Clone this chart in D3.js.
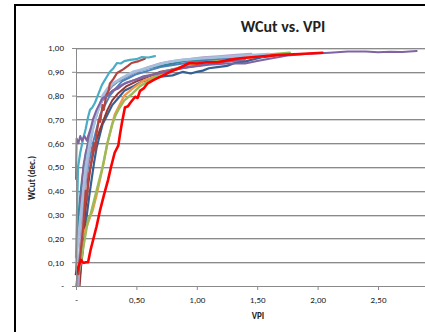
<!DOCTYPE html>
<html>
<head>
<meta charset="utf-8">
<script src="https://cdn.jsdelivr.net/npm/d3@7"></script>
<style>
  html, body { margin: 0; padding: 0; background: #fff; }
  svg { display: block; }
  text { font-family: Carlito, Lato, "Liberation Sans", sans-serif; fill: #222; }
</style>
</head>
<body>
<svg id="chart" width="425" height="332"></svg>
<script>
// Axis ticks
const xTicks = [0, 0.5, 1.0, 1.5, 2.0, 2.5];
const yTicks = [0, 0.1, 0.2, 0.3, 0.4, 0.5, 0.6, 0.7, 0.8, 0.9, 1.0];

// Well series: [VPI, WCut]
const sAqua = [[0,0.12],[0.008,0.3],[0.017,0.5],[0.035,0.56],[0.06,0.62],[0.08,0.66],[0.1,0.71],[0.116,0.74],[0.135,0.75],[0.157,0.77],[0.18,0.8],[0.215,0.845],[0.25,0.875],[0.28,0.9],[0.31,0.915],[0.34,0.937],[0.37,0.935],[0.4,0.945],[0.447,0.95],[0.5,0.953],[0.546,0.962],[0.6,0.96],[0.654,0.966]];
const sBrick = [[0.02,0.05],[0.04,0.15],[0.06,0.25],[0.08,0.4],[0.09,0.36],[0.1,0.45],[0.12,0.5],[0.13,0.53],[0.15,0.6],[0.16,0.57],[0.17,0.64],[0.19,0.7],[0.2,0.69],[0.22,0.76],[0.23,0.74],[0.25,0.8],[0.27,0.82],[0.28,0.85],[0.31,0.87],[0.34,0.895],[0.39,0.91],[0.43,0.925],[0.46,0.937],[0.52,0.945],[0.57,0.955]];
const sPurple = [[0,0.45],[0.005,0.62],[0.02,0.6],[0.035,0.63],[0.05,0.61],[0.07,0.63],[0.09,0.61],[0.1,0.63],[0.12,0.66],[0.14,0.7],[0.17,0.74],[0.2,0.77],[0.22,0.79],[0.26,0.8],[0.3,0.82],[0.35,0.83],[0.4,0.85],[0.48,0.865],[0.55,0.88],[0.65,0.89],[0.8,0.91],[0.95,0.92],[1.1,0.93],[1.25,0.935],[1.4,0.935],[1.5,0.945],[1.6,0.955],[1.75,0.968],[1.9,0.975],[2.1,0.98],[2.25,0.985],[2.4,0.985],[2.5,0.982],[2.6,0.984],[2.7,0.983],[2.82,0.987]];
const sNavy = [[0.02,0.0],[0.035,0.06],[0.05,0.12],[0.07,0.22],[0.09,0.3],[0.11,0.38],[0.13,0.45],[0.15,0.52],[0.17,0.58],[0.2,0.64],[0.22,0.68],[0.26,0.72],[0.3,0.76],[0.35,0.79],[0.4,0.82],[0.48,0.84],[0.55,0.86],[0.62,0.87],[0.7,0.88],[0.8,0.885],[0.886,0.9],[0.95,0.893],[1.0,0.9],[1.05,0.905],[1.1,0.915],[1.17,0.92],[1.25,0.925],[1.33,0.94],[1.4,0.943],[1.45,0.95],[1.55,0.962],[1.66,0.97]];
const sGreen = [[0,0.0],[0.02,0.05],[0.04,0.1],[0.06,0.16],[0.08,0.22],[0.1,0.28],[0.12,0.3],[0.14,0.34],[0.16,0.38],[0.19,0.44],[0.22,0.5],[0.24,0.55],[0.26,0.6],[0.28,0.64],[0.3,0.68],[0.33,0.72],[0.35,0.74],[0.4,0.78],[0.47,0.81],[0.53,0.84],[0.6,0.86],[0.7,0.895],[0.8,0.91],[0.94,0.93],[1.05,0.94],[1.2,0.95],[1.35,0.96],[1.5,0.97],[1.65,0.975],[1.77,0.98]];
const sOrange = [[0.01,0.0],[0.02,0.05],[0.03,0.1],[0.05,0.2],[0.07,0.23],[0.09,0.25],[0.11,0.28],[0.14,0.32],[0.17,0.38],[0.2,0.45],[0.23,0.52],[0.26,0.6],[0.29,0.66],[0.32,0.72],[0.36,0.76],[0.4,0.8],[0.47,0.83],[0.55,0.86],[0.65,0.88],[0.75,0.9],[0.88,0.915],[1.0,0.93],[1.15,0.94],[1.3,0.95],[1.45,0.96],[1.55,0.965]];
const sSky = [[0,0.1],[0.01,0.15],[0.02,0.2],[0.035,0.28],[0.05,0.35],[0.065,0.42],[0.08,0.5],[0.1,0.56],[0.12,0.62],[0.145,0.67],[0.17,0.72],[0.2,0.76],[0.22,0.8],[0.26,0.83],[0.3,0.85],[0.35,0.865],[0.4,0.88],[0.47,0.9],[0.55,0.91],[0.65,0.925],[0.75,0.94],[0.88,0.95],[1.0,0.955],[1.15,0.96],[1.3,0.965],[1.45,0.97],[1.6,0.975]];
const sLilac = [[0.02,0.0],[0.03,0.12],[0.05,0.25],[0.065,0.35],[0.08,0.45],[0.1,0.53],[0.12,0.6],[0.14,0.66],[0.16,0.7],[0.19,0.75],[0.22,0.79],[0.26,0.82],[0.3,0.845],[0.37,0.87],[0.45,0.89],[0.52,0.905],[0.6,0.92],[0.7,0.935],[0.8,0.945],[0.92,0.952],[1.05,0.96],[1.18,0.965],[1.3,0.97],[1.45,0.975]];
const sTeal = [[0,0.05],[0.01,0.18],[0.02,0.3],[0.035,0.38],[0.05,0.45],[0.065,0.5],[0.08,0.55],[0.1,0.6],[0.12,0.65],[0.15,0.7],[0.18,0.74],[0.21,0.78],[0.25,0.81],[0.3,0.84],[0.35,0.86],[0.42,0.88],[0.5,0.9],[0.6,0.915],[0.7,0.925],[0.8,0.935],[0.9,0.945],[1.0,0.95],[1.1,0.955]];
const sBlue = [[0.01,0.0],[0.025,0.1],[0.04,0.2],[0.055,0.3],[0.07,0.4],[0.085,0.45],[0.1,0.5],[0.12,0.55],[0.14,0.6],[0.17,0.66],[0.2,0.72],[0.24,0.76],[0.28,0.8],[0.33,0.83],[0.38,0.86],[0.44,0.875],[0.5,0.89],[0.6,0.905],[0.7,0.92],[0.82,0.93],[0.95,0.94],[1.08,0.95],[1.2,0.955],[1.3,0.958],[1.4,0.96]];
const sMaroon = [[0.03,0.0],[0.045,0.1],[0.06,0.2],[0.075,0.3],[0.09,0.38],[0.1,0.42],[0.12,0.5],[0.14,0.55],[0.16,0.6],[0.18,0.63],[0.2,0.66],[0.23,0.7],[0.26,0.74],[0.3,0.78],[0.35,0.81],[0.42,0.84],[0.5,0.86],[0.6,0.88],[0.7,0.9],[0.8,0.91],[0.9,0.92],[1.05,0.93],[1.2,0.94]];
const sPlum = [[0.03,0.3],[0.045,0.4],[0.06,0.5],[0.08,0.56],[0.1,0.6],[0.12,0.65],[0.15,0.7],[0.18,0.74],[0.22,0.78],[0.26,0.8],[0.3,0.82],[0.36,0.84],[0.42,0.855],[0.48,0.865],[0.55,0.875],[0.65,0.89],[0.75,0.9],[0.87,0.915],[1.0,0.925],[1.1,0.933],[1.2,0.94],[1.3,0.945],[1.4,0.95]];
const sRed = [[0,0.05],[0.02,0.08],[0.04,0.11],[0.055,0.1],[0.066,0.097],[0.08,0.1],[0.1,0.1],[0.12,0.15],[0.14,0.19],[0.17,0.25],[0.2,0.32],[0.23,0.38],[0.265,0.445],[0.29,0.5],[0.32,0.56],[0.35,0.59],[0.365,0.64],[0.38,0.685],[0.405,0.75],[0.43,0.755],[0.45,0.77],[0.49,0.795],[0.51,0.79],[0.53,0.82],[0.56,0.83],[0.59,0.85],[0.64,0.865],[0.7,0.88],[0.78,0.9],[0.85,0.915],[0.94,0.937],[1.0,0.935],[1.08,0.94],[1.17,0.94],[1.27,0.95],[1.38,0.958],[1.5,0.963],[1.66,0.97],[1.85,0.975],[2.04,0.98]];

const series = [
  { name: "Well 1",  data: sNavy,   color: "#376092", width: 2.2 },
  { name: "Well 2",  data: sMaroon, color: "#943634", width: 2 },
  { name: "Well 3",  data: sOrange, color: "#F79646", width: 2.2 },
  { name: "Well 4",  data: sGreen,  color: "#9BBB59", width: 2.4 },
  { name: "Well 5",  data: sBlue,   color: "#4F81BD", width: 2 },
  { name: "Well 6",  data: sTeal,   color: "#31859C", width: 2 },
  { name: "Well 7",  data: sPlum,   color: "#7F6A9E", width: 2 },
  { name: "Well 8",  data: sLilac,  color: "#B3A2C7", width: 2.4 },
  { name: "Well 9",  data: sSky,    color: "#A6BFDD", width: 2.6 },
  { name: "Well 10", data: sBrick,  color: "#B3443F", width: 2.2 },
  { name: "Well 11", data: sAqua,   color: "#4BACC6", width: 2.2 },
  { name: "Well 12", data: sPurple, color: "#8064A2", width: 2 },
  { name: "Well 13", data: sRed,    color: "#FF0000", width: 2.6 }
];

const svg = d3.select("#chart");
const x = d3.scaleLinear().domain([0, 3]).range([76, 438.4]);
const y = d3.scaleLinear().domain([0, 1]).range([286, 48]);
const fmt = d => d === 0 ? "-" : d3.format(".2f")(d).replace(".", ",");

// Frame (chart border)
svg.append("line").attr("x1", 15).attr("x2", 15).attr("y1", 4).attr("y2", 332)
  .attr("stroke", "#000").attr("stroke-width", 2);
svg.append("line").attr("x1", 14).attr("x2", 425).attr("y1", 5).attr("y2", 5)
  .attr("stroke", "#000").attr("stroke-width", 2);

// Horizontal gridlines
const grid = svg.append("g");
grid.selectAll("line.g1").data(yTicks.filter(d => d > 0)).join("line")
  .attr("x1", x(0)).attr("x2", 425)
  .attr("y1", d => Math.round(y(d)) + 0.5).attr("y2", d => Math.round(y(d)) + 0.5)
  .attr("stroke", "#8a8a8a").attr("stroke-width", 1);
grid.selectAll("line.g2").data(yTicks.filter(d => d > 0)).join("line")
  .attr("x1", x(0)).attr("x2", 425)
  .attr("y1", d => Math.round(y(d)) + 1.5).attr("y2", d => Math.round(y(d)) + 1.5)
  .attr("stroke", "#d6d6d6").attr("stroke-width", 1);

// Series lines
const clip = svg.append("clipPath").attr("id", "plot")
  .append("rect").attr("x", x(0) - 2).attr("y", 40).attr("width", 425 - x(0) + 2).attr("height", 250);
const line = d3.line().x(d => x(d[0])).y(d => y(d[1])).curve(d3.curveLinear);
svg.append("g").attr("clip-path", "url(#plot)")
  .selectAll("path").data(series).join("path")
  .attr("d", d => line(d.data))
  .attr("fill", "none")
  .attr("stroke", d => d.color)
  .attr("stroke-width", d => d.width)
  .attr("stroke-linejoin", "round")
  .attr("stroke-linecap", "round");

// Axes
const yAxis = d3.axisLeft(y).tickValues(yTicks).tickFormat(fmt).tickSize(4).tickPadding(8);
const gy = svg.append("g").attr("transform", `translate(${x(0)},0)`).call(yAxis);
const xAxis = d3.axisBottom(x).tickValues(xTicks).tickFormat(fmt).tickSize(4).tickPadding(7);
const gx = svg.append("g").attr("transform", `translate(0,${y(0)})`).call(xAxis);
[gy, gx].forEach(g => {
  g.select(".domain").attr("stroke", "#8a8a8a");
  g.selectAll(".tick line").attr("stroke", "#8a8a8a");
  g.selectAll(".tick text").attr("font-size", 9).attr("fill", "#222")
    .attr("font-family", "Carlito, Lato, 'Liberation Sans', sans-serif");
});
gx.select(".domain").attr("d", `M${x(0)},0.5H425`);
gy.select(".domain").attr("d", `M0.5,${y(0)}V${y(1)}`);

// Titles
svg.append("text").attr("x", 283).attr("y", 32).attr("text-anchor", "middle")
  .attr("font-size", 16).attr("font-weight", "bold").attr("fill", "#000").text("WCut vs. VPI");
svg.append("text").attr("x", 258).attr("y", 319).attr("text-anchor", "middle")
  .attr("font-size", 9).attr("font-weight", "bold").text("VPI");
svg.append("text").attr("transform", "translate(35,178) rotate(-90)").attr("text-anchor", "middle")
  .attr("font-size", 9).attr("font-weight", "bold").text("WCut (dec.)");
</script>
</body>
</html>
